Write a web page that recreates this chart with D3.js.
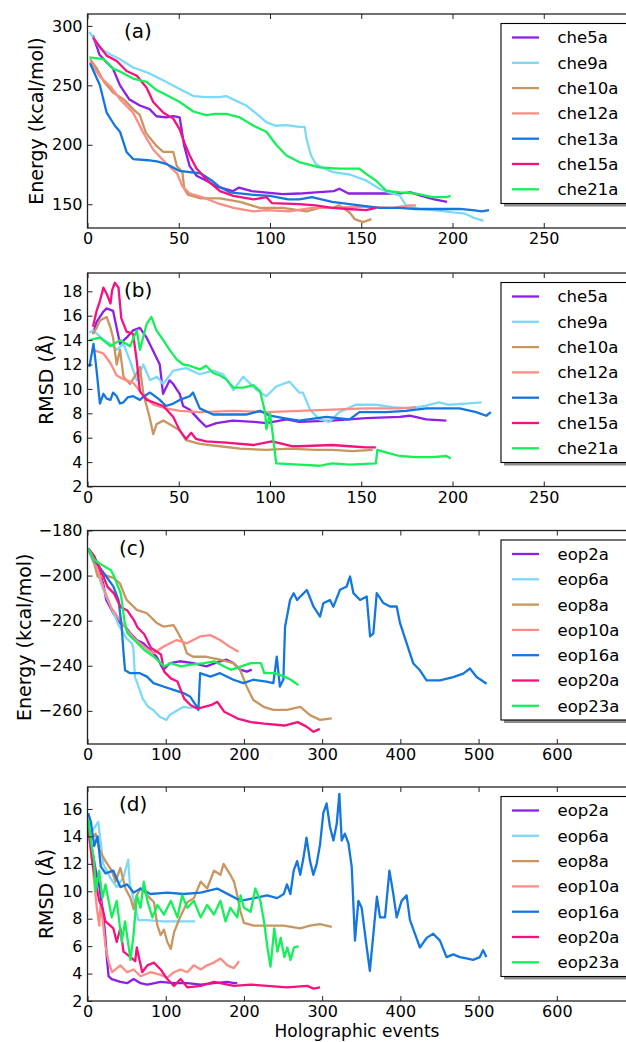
<!DOCTYPE html>
<html>
<head>
<meta charset="utf-8">
<script src="https://d3js.org/d3.v7.min.js"></script>
<style>
body { margin: 0; background: #fff; }
text { font-family: "DejaVu Sans", sans-serif; fill: #000; }
</style>
</head>
<body>
<div id="chart"></div>
<script>
// names and colours
var cheNames = ["che5a", "che9a", "che10a", "che12a", "che13a", "che15a", "che21a"];
var eopNames = ["eop2a", "eop6a", "eop8a", "eop10a", "eop16a", "eop20a", "eop23a"];
var lineColors = ["#8d1fe6", "#7dd9f7", "#c99560", "#fc8c84", "#1477dd", "#f5127e", "#15f05a"];

// tick labels
var xTicksChe = [0, 50, 100, 150, 200, 250];
var xTicksEop = [0, 100, 200, 300, 400, 500, 600];
var yTicksA = [150, 200, 250, 300];
var yTicksB = [2, 4, 6, 8, 10, 12, 14, 16, 18];
var yTicksC = [-260, -240, -220, -200, -180];
var yTicksD = [2, 4, 6, 8, 10, 12, 14, 16];

// (a) energy, che runs  [event, kcal/mol]
var che5aE = [[3,292],[5,283],[6.5,276],[10,270],[14,264],[17.8,250],[23,238],[28.7,233],[34,230],[37.8,224],[43,223],[47,224],[50.5,223],[53,199],[56,182],[59.7,174],[65,170],[70.6,165],[79.6,161],[83,164],[90,161],[107,158.5],[116,159],[125,160],[135,161],[138,163],[143,159],[160,159],[170,159],[177,160],[183,157],[190,154],[197,152]];
var che9aE = [[1,295],[4,288],[7,281],[12.6,276],[17.8,272],[25,265],[34,260],[43,253],[50.5,247],[58,241],[65,240],[72,240],[76,241],[80,238],[87,233],[92.7,226],[98,219],[103,216],[109,216.5],[116,215],[119,215],[120,205],[122.5,191],[125,184],[127,182],[134.5,177],[143.6,175],[152.6,170],[160,163],[165,160],[171,157.5],[174.5,149],[181.6,146],[192.5,144.6],[201.6,143],[207,142],[211,139],[217,136]];
var che10aE = [[1.4,272],[5,264.5],[9,253],[14,244],[20,238],[25,230],[28.7,225],[32,210],[37.8,199],[41.5,194],[47,194],[49,182],[52,177],[53,163],[55,158],[62,155],[72.6,155],[83.5,152],[94.3,147],[107,147],[120,144],[127,147],[134,147],[138,149],[143.6,143],[146.4,137.5],[151,135],[155.6,137.5]];
var che12aE = [[1.4,270],[7,257],[12.6,249],[18,238],[25,227],[30.6,210],[36,196],[43,184.5],[49,176],[52,165],[56,159],[62,156.5],[71,151],[80,147],[91,144],[98,145],[110.6,144],[123,147],[134,147],[149,148],[167,147],[176.5,149],[180,149]];
var che13aE = [[1.4,268.6],[6.8,250],[10.5,227],[15,216],[17.8,211],[21.4,194],[25,188],[33,187],[38,186],[43,184],[50.5,178],[56,177],[62,176],[68,170],[72,165],[78,160],[90,158],[100,157],[110,154],[116,154],[123,156],[134,152],[149,149],[160,147],[171,147],[180,146],[189,146],[204,146],[211,145],[216,144],[220,145]];
var che15aE = [[3,290],[5,286],[10.5,275],[16,270.5],[21.4,262],[27,258],[32.4,248],[36,236],[41.6,227],[47,222],[50.5,213],[53,202],[56,191],[59.7,180],[65,171],[72.6,161],[80,157],[91,154],[98,156],[101,151],[116,150],[125,149],[134,147],[143,146],[152.6,145],[158,147]];
var che21aE = [[1,273.5],[9,272],[14,264],[18,261.5],[25,255.7],[32.4,253],[37.8,246],[43,242],[50.5,236],[58,228],[65,225],[70,226],[76,226],[83.5,223],[91,216],[98,211],[103.4,200],[109,191],[116,185.5],[127,181],[138,180],[149,180],[152.6,175.5],[158,170],[163.6,161.5],[171,160],[180,159],[189,156],[196.6,156],[199,157]];

// (b) RMSD, che runs  [event, angstrom]
var che5aR = [[3,14.5],[5,15.5],[6.8,15.9],[8.5,16.3],[10.5,16.6],[14,16.4],[16,15],[17.8,13.7],[21.4,14.2],[25,14.8],[28.7,15],[32.4,14.2],[36,13.1],[39.6,12],[41.4,9.6],[45,10.7],[47,10.4],[50.5,9.6],[52.4,8.6],[56,8.3],[61.5,7.4],[65,6.9],[70.6,7.2],[79.6,7.4],[91,7.3],[98,7.2],[109,7.5],[116,7.3],[134,7.4],[152.6,7.6],[171,7.7],[176.5,7.8],[185.6,7.5],[196.6,7.4]];
var che9aR = [[1,14.6],[3,14.8],[6.8,14.3],[9,14],[12.6,13.7],[16,13.2],[19.7,13.7],[23.3,12.3],[27,10.7],[30.6,12],[34.3,10.7],[38,11],[41.5,10.4],[47,11.5],[54,11.7],[61.5,11.2],[68.8,11.5],[74.3,11.2],[80,9.9],[85.3,11],[92.7,9.9],[98,9.4],[103.4,10.2],[110.6,10.6],[116,9.7],[118,9.7],[122,8.3],[127,7.5],[132.6,7.3],[138,8.1],[147,8.7],[158,8.7],[167,8.5],[176.5,8.4],[185,8.6],[192.5,8.9],[198,8.7],[207,8.8],[216,8.9]];
var che10aR = [[3,14.5],[5,15],[6.8,15.6],[10.5,15.9],[12.6,15],[14,14.2],[16,12],[17.8,13.2],[19.7,11],[23.3,10.4],[27,11.3],[28.7,11.8],[30.6,9.6],[34,7.7],[36,6.3],[37.8,7.1],[41.5,7.4],[45,7.1],[50.5,6.6],[54,5.8],[61.5,5.5],[72.6,5.3],[83.5,5.1],[98,5],[110.6,5.1],[125,5],[134,5],[145,4.9],[156.3,5]];
var che12aR = [[3,13.2],[8.7,12.9],[12.6,12.1],[16,11.1],[19.7,10.8],[25,10.5],[30.6,9.5],[36,8.7],[43,8.4],[50.5,8.2],[61.5,8.1],[80,8.2],[98,8.1],[116,8.2],[134,8.3],[152.6,8.4],[171,8.4],[180,8.5]];
var che13aR = [[1,11.8],[3.3,13.7],[5,11.5],[6.8,8.8],[8.7,9.6],[10.5,9.2],[12.6,9.1],[14,9.7],[16,9.4],[17.8,8.8],[19.7,8.9],[22,9.3],[25,9.4],[28.7,9.1],[31,9.4],[34.3,9.7],[39.6,9.1],[43,8.6],[47,8.8],[50.5,9.1],[56,9.4],[57.8,9.7],[61.5,8.4],[68.8,7.9],[80,7.9],[87,7.9],[94.6,8.2],[100,7.8],[107.5,7.6],[116,7.4],[130.8,7.7],[143.6,7.5],[149,8.1],[163.6,8.1],[174.5,8.2],[185.6,8.4],[194.7,8.4],[203.8,8.4],[213,8.1],[218.5,7.8],[221,8.1]];
var che15aR = [[3,15.1],[5,16.4],[6.8,17.2],[8.7,18.3],[10.5,17.8],[12.6,17],[13.5,18.1],[15,18.7],[17,18.3],[18.5,15.8],[21.4,14.7],[25,14.5],[27,12.3],[28.7,9.8],[32.4,9.1],[37.8,8.8],[41.5,8.6],[47,7.7],[50.5,6.6],[54,5.9],[56.8,6.4],[59.5,5.9],[65,5.7],[76,5.6],[91,5.4],[101,5.7],[112,5.3],[116,5.3],[134,5.4],[143.6,5.3],[152.6,5.2],[158,5.2]];
var che21aR = [[1,14],[6.8,14.2],[12.6,13.5],[17.8,14],[23.3,13.5],[27,14.8],[28.7,13.2],[32.4,15.3],[35,15.9],[37.8,14.8],[41.5,14],[45,13.2],[49,12.4],[52.4,12],[56,11.9],[61.5,11.6],[65,11.9],[68.8,11.3],[72.6,11.1],[76,10.8],[80,10.1],[85.3,10.1],[91,10.3],[94.6,9.8],[97.4,8],[98,6.7],[100,8],[101.4,6.4],[103.4,3.9],[116,3.8],[127,3.7],[134,3.9],[143.6,3.8],[158,3.9],[158.8,5],[163.6,4.8],[171,4.5],[180,4.4],[189,4.4],[196.6,4.5],[199,4.3]];

// (c) energy, eop runs
var eop2aE = [[1,-188],[8.6,-191.5],[12.9,-196],[20,-203.4],[24,-210.8],[33,-216.7],[41.5,-221],[48,-222.6],[54.5,-225.5],[63,-228.6],[71.4,-230],[80,-233],[88.4,-236],[97,-241.7],[105.5,-238.8],[118,-238],[135,-238.8],[152,-240.3],[169.4,-238],[178,-237.3],[186.5,-238.8],[195,-241.7],[203.8,-242.6],[210,-241.7]];
var eop6aE = [[0,-188],[10,-196],[20,-206],[30,-214],[40,-222],[50,-228],[56.5,-230],[58.6,-232],[60.7,-245],[64,-248],[70.5,-254.6],[77.7,-258.2],[84,-259.6],[92.7,-262.7],[101,-264],[105.5,-261.7],[114,-260],[122.7,-258.2],[131,-258.7],[139.6,-258.2]];
var eop8aE = [[1,-188],[8.6,-194.6],[12.9,-200.4],[24,-200],[33,-201],[41.5,-203.5],[50,-210.8],[63,-215.2],[76,-216.7],[88.4,-221],[97,-222.6],[110,-222],[116,-225.5],[122.7,-230],[127,-234.4],[135,-236],[152,-236],[169.4,-237.3],[186.5,-238.8],[195,-241.7],[203.6,-249.3],[212,-255.2],[225,-258.2],[237.6,-259.6],[255,-259.6],[272,-258.2],[285,-262],[297.3,-264],[312.3,-263.3]];
var eop10aE = [[0,-188],[10,-194],[20,-205],[30,-214],[40,-219],[50,-224],[60,-228],[70,-231],[84,-234.5],[97,-231.6],[114,-228.6],[127,-230],[144,-227],[157,-226.4],[169.4,-228.6],[182,-231.6],[193,-233.8]];
var eop16aE = [[1,-188],[8.6,-193],[24,-200.4],[33,-204.8],[39.6,-210.8],[43.7,-222.7],[45.8,-233],[48,-242],[54.5,-243.3],[67,-243.3],[76,-244.8],[84.4,-247.7],[97,-249.2],[110,-250.7],[122.7,-252.1],[131,-253.6],[139.6,-258],[141.8,-259.6],[144,-243.3],[157,-244.8],[169.4,-243.3],[186.5,-246.2],[199.3,-247.7],[212,-246.2],[229,-247],[237.6,-247.7],[242,-236],[246,-249.2],[250.4,-246.2],[252.6,-222.7],[259,-210.8],[263.6,-207.8],[268,-210.8],[272,-209.3],[280.5,-206.4],[289,-213.8],[297.3,-218.2],[301.5,-212.3],[310,-210.8],[314.4,-213.8],[322.8,-206.3],[331.4,-204.8],[335.7,-200.4],[340,-207.8],[348.5,-210.8],[357,-209.3],[361.3,-227],[365.5,-225.6],[369.8,-207.8],[378.3,-212.2],[386.8,-213.7],[395.3,-213.7],[399.6,-221.1],[408,-230],[416.6,-239],[425,-242],[433.5,-246.5],[450.6,-246.5],[467.6,-245],[480.4,-243.5],[489,-241.2],[497.5,-245],[510.3,-248]];
var eop20aE = [[1,-188],[8.6,-191.5],[17,-197.5],[25.6,-205],[34,-208],[42.6,-214],[51,-215.5],[59.7,-220],[64,-223],[72.6,-226],[81,-232],[94,-235],[98,-242.6],[106.5,-245.6],[115,-247],[123.6,-254.6],[132,-257.5],[140.7,-259],[157.8,-257.5],[166,-256],[174.8,-260.4],[191.8,-263.4],[209,-265],[226,-265.7],[251.7,-266.5],[268.8,-265],[280,-267],[289,-269.3],[297,-268]];
var eop23aE = [[1,-188],[8.6,-193],[17,-195],[30,-197.6],[34,-200.4],[42.6,-208],[47,-219.8],[51,-225.5],[59.7,-228.6],[72.6,-233],[85,-236],[98,-240.3],[106.6,-238.8],[119.4,-240.3],[132,-239.5],[149,-238.8],[162,-238],[174.8,-240.3],[183.3,-241.8],[196.3,-240.3],[209,-238.8],[221.7,-238.8],[226,-243.3],[238.8,-243.3],[251.7,-244.8],[260,-246.2],[269.6,-248.6]];

// (d) RMSD, eop runs
var eop2aR = [[1,14.7],[6,13],[10.3,11.6],[15,10.4],[20,8.4],[22.8,6.7],[24.9,5],[27,3.8],[31,3.6],[42,3.4],[50.6,3.3],[59,3.6],[67.8,3.3],[76.5,3.2],[93.5,3.4],[110.6,3.3],[127.6,3.3],[144.7,3.2],[161.7,3.3],[178.8,3.4],[187.3,3.3],[191.5,3.3]];
var eop6aR = [[0,15.4],[6,14.4],[13.8,15.05],[20,12],[28.8,11],[37.3,10.3],[45.8,11],[52,12.3],[54,10.6],[58,9.6],[65,7.9],[75.7,7.9],[97,7.8],[118,7.8],[137.5,7.8]];
var eop8aR = [[1,14.7],[6,13.9],[10.3,14.2],[15,13.1],[19,12.6],[23,12.2],[31,11.5],[35.8,10.7],[42,11.7],[48.5,10.2],[55,9.5],[59,8.7],[63,9.7],[67.8,10.2],[76.5,9.7],[85,9.2],[89.4,7.5],[93.5,6.8],[97.8,7.2],[102,6.3],[106.6,5.8],[110.6,7],[119,8.2],[127.6,9.2],[136,9.5],[144.7,10.7],[153,10.2],[161.7,11.5],[170,11.2],[174,12],[182.6,11.2],[187.3,10.7],[191.5,9.7],[195.7,8.5],[200,7.7],[212.7,7.5],[229.7,7.5],[250.8,7.5],[272,7.3],[284.5,7.5],[297.3,7.6],[312.3,7.4]];
var eop10aR = [[1,14.5],[6,12.2],[11.7,8.9],[15,7.5],[17,9.2],[23,6],[27.3,4.8],[31.5,4.1],[42,4.6],[50.6,4.1],[59,4.3],[67.8,3.8],[80.5,4.1],[93.5,3.9],[102,3.7],[110.6,4.1],[119,4.3],[127.6,4.1],[136,4.6],[144.7,4.3],[153,4.6],[161.7,4.8],[170,5.1],[178.8,4.6],[187.3,4.4],[193.6,4.9]];
var eop16aR = [[1,15.7],[4.5,15],[8.6,13.3],[12.9,14],[17,11.8],[23,11.3],[33,11.5],[42,10.3],[50.6,10.5],[59,9.9],[67.8,10.2],[80.5,9.8],[102,9.9],[122.7,9.8],[144.7,9.9],[165.8,10.2],[182.6,9.7],[195.7,9.3],[212.7,9.5],[229.7,9.7],[242.4,9.5],[251,9.8],[255,10.5],[259.4,9.8],[263.6,11.5],[268,12.2],[272,11.2],[276,12.4],[280,13.9],[284.5,12.2],[288.7,11.2],[293,12],[297.3,13.4],[301.5,15.7],[305.7,16.4],[310,14.7],[314.4,13.7],[318.6,14.9],[322,17.1],[325,13.7],[329,14.2],[333.6,13.5],[337.8,11.8],[342,6.4],[346.3,9.3],[350.5,8.8],[357,5.9],[361,4.2],[365.5,6.9],[370,9.6],[374,8.1],[380.4,8.1],[386,11.5],[391,9.8],[395.3,8.1],[401.6,9.3],[408,9.7],[412.3,7.9],[418.7,6.9],[425,5.9],[433.6,6.6],[442,6.9],[450.6,6.4],[459,5.2],[467.6,5.4],[476,5.2],[484.6,5.1],[493,5],[501.6,5.2],[505.8,5.7],[510,5.2]];
var eop20aR = [[1,14.7],[6,12.2],[10.3,10.7],[15,9.3],[19,8.8],[23,7.8],[33,7.3],[37.4,6.3],[42,7.3],[46,5.6],[50.6,5.4],[57,5.1],[61,4.9],[63,5.9],[70,4.1],[76.5,4.6],[85,4.8],[93.5,4.3],[102,3.6],[110.6,3.1],[119,3.6],[127.6,3],[144.7,3.1],[161.7,3.4],[187.3,3.1],[208.6,3.2],[229.7,3.1],[255.3,3],[281,3.1],[289,2.9],[297.3,3]];
var eop23aR = [[1,15.2],[4.5,13.6],[8.6,12.2],[10.3,10],[15,11.5],[19,9.5],[23,10.5],[31,8.1],[37.4,9.3],[43.8,6.3],[48,7.8],[55,5],[59,6.9],[63,9.7],[67.8,8.8],[72,10.7],[76.5,9.3],[83,8.1],[89.4,9],[97.8,8.3],[106.6,9.3],[115,8.1],[121,9.7],[127.6,8.8],[136,9.3],[144.7,8.1],[153,9],[161.7,8.3],[170,9.3],[176.5,7.8],[182.6,8.8],[191.5,8.1],[195.7,9.7],[200,8.8],[208.6,8.5],[214.6,10.2],[221,9.3],[225.7,7.8],[230,5.9],[234,4.5],[238.8,7.3],[242.8,5.6],[247,6.6],[251.7,5.2],[255.6,5.9],[259.6,5],[264,5.9],[270,6]];

var W = 626, H = 1042;
var plotLeft = 87.5, plotRight = 635;

var panels = [
    {tag: "(a)", top: 14, bottom: 228, xMax: 300, xTicks: xTicksChe, yDomain: [130, 310], yTicks: yTicksA,
     yLabel: "Energy (kcal/mol)", labelX: 43, tagX: 124, names: cheNames,
     series: [che5aE, che9aE, che10aE, che12aE, che13aE, che15aE, che21aE]},
    {tag: "(b)", top: 273, bottom: 486.5, xMax: 300, xTicks: xTicksChe, yDomain: [2, 19.5], yTicks: yTicksB,
     yLabel: "RMSD (Å)", labelX: 53, tagX: 124, names: cheNames,
     series: [che5aR, che9aR, che10aR, che12aR, che13aR, che15aR, che21aR]},
    {tag: "(c)", top: 530.5, bottom: 744, xMax: 700, xTicks: xTicksEop, yDomain: [-274.7, -180], yTicks: yTicksC,
     yLabel: "Energy (kcal/mol)", labelX: 31, tagX: 119, names: eopNames,
     series: [eop2aE, eop6aE, eop8aE, eop10aE, eop16aE, eop20aE, eop23aE]},
    {tag: "(d)", top: 787, bottom: 1001, xMax: 700, xTicks: xTicksEop, yDomain: [2, 17.6], yTicks: yTicksD,
     yLabel: "RMSD (Å)", labelX: 53, tagX: 119, names: eopNames,
     series: [eop2aR, eop6aR, eop8aR, eop10aR, eop16aR, eop20aR, eop23aR]}
];

var svg = d3.select("#chart").append("svg")
    .attr("width", W)
    .attr("height", H);

function fmt(v) {
    return String(v).replace("-", "\u2212");
}

panels.forEach(function (p, k) {
    var x = d3.scaleLinear().domain([0, p.xMax]).range([plotLeft, plotRight]);
    var y = d3.scaleLinear().domain(p.yDomain).range([p.bottom, p.top]);

    svg.append("clipPath").attr("id", "clip" + k)
        .append("rect")
        .attr("x", plotLeft).attr("y", p.top)
        .attr("width", plotRight - plotLeft).attr("height", p.bottom - p.top);

    var line = d3.line()
        .x(function (d) { return x(d[0]); })
        .y(function (d) { return y(d[1]); });

    var g = svg.append("g").attr("clip-path", "url(#clip" + k + ")");
    p.series.forEach(function (s, i) {
        g.append("path")
            .datum(s)
            .attr("fill", "none")
            .attr("stroke", lineColors[i])
            .attr("stroke-width", 2.3)
            .attr("stroke-linejoin", "round")
            .attr("d", line);
    });

    // axes, ticks pointing inward on all sides
    var xb = svg.append("g")
        .attr("transform", "translate(0," + p.bottom + ")")
        .call(d3.axisBottom(x).tickValues(p.xTicks).tickSize(-5).tickPadding(5).tickFormat(fmt));
    var xt = svg.append("g")
        .attr("transform", "translate(0," + p.top + ")")
        .call(d3.axisTop(x).tickValues(p.xTicks).tickSize(-5).tickFormat(""));
    var yl = svg.append("g")
        .attr("transform", "translate(" + plotLeft + ",0)")
        .call(d3.axisLeft(y).tickValues(p.yTicks).tickSize(-5).tickPadding(5).tickFormat(fmt));
    var yr = svg.append("g")
        .attr("transform", "translate(" + plotRight + ",0)")
        .call(d3.axisRight(y).tickValues(p.yTicks).tickSize(-5).tickFormat(""));

    [xb, xt, yl, yr].forEach(function (a) {
        a.select(".domain").remove();
        a.selectAll(".tick line").attr("stroke", "#222").attr("stroke-width", 1);
        a.selectAll(".tick text")
            .style("font-family", "'DejaVu Sans', sans-serif")
            .style("font-size", "16px")
            .attr("fill", "#000");
    });

    svg.append("rect")
        .attr("x", plotLeft).attr("y", p.top)
        .attr("width", plotRight - plotLeft).attr("height", p.bottom - p.top)
        .attr("fill", "none")
        .attr("stroke", "#222")
        .attr("stroke-width", 1.3);

    // y axis label
    svg.append("text")
        .attr("transform", "translate(" + p.labelX + "," + ((p.top + p.bottom) / 2) + ") rotate(-90)")
        .attr("text-anchor", "middle")
        .style("font-size", "19px")
        .text(p.yLabel);

    // panel tag
    svg.append("text")
        .attr("x", p.tagX)
        .attr("y", p.top + 24)
        .style("font-size", "20px")
        .text(p.tag);

    // legend with shadow
    var lx = 501, ly = p.top + 9.5, lw = 126, lh = 180;
    svg.append("rect")
        .attr("x", lx + 3).attr("y", ly + 3)
        .attr("width", lw).attr("height", lh)
        .attr("fill", "#8c8c8c");
    svg.append("rect")
        .attr("x", lx).attr("y", ly)
        .attr("width", lw).attr("height", lh)
        .attr("fill", "#fff")
        .attr("stroke", "#000")
        .attr("stroke-width", 1.1);
    p.names.forEach(function (n, i) {
        var yy = ly + 14 + i * 25.3;
        svg.append("line")
            .attr("x1", lx + 11).attr("x2", lx + 38)
            .attr("y1", yy).attr("y2", yy)
            .attr("stroke", lineColors[i])
            .attr("stroke-width", 2.3);
        svg.append("text")
            .attr("x", lx + 56.5)
            .attr("y", yy)
            .attr("dy", "0.36em")
            .style("font-size", "16.5px")
            .text(n);
    });
});

svg.append("text")
    .attr("x", 357)
    .attr("y", 1037)
    .attr("text-anchor", "middle")
    .style("font-size", "17px")
    .text("Holographic events");
</script>
</body>
</html>
